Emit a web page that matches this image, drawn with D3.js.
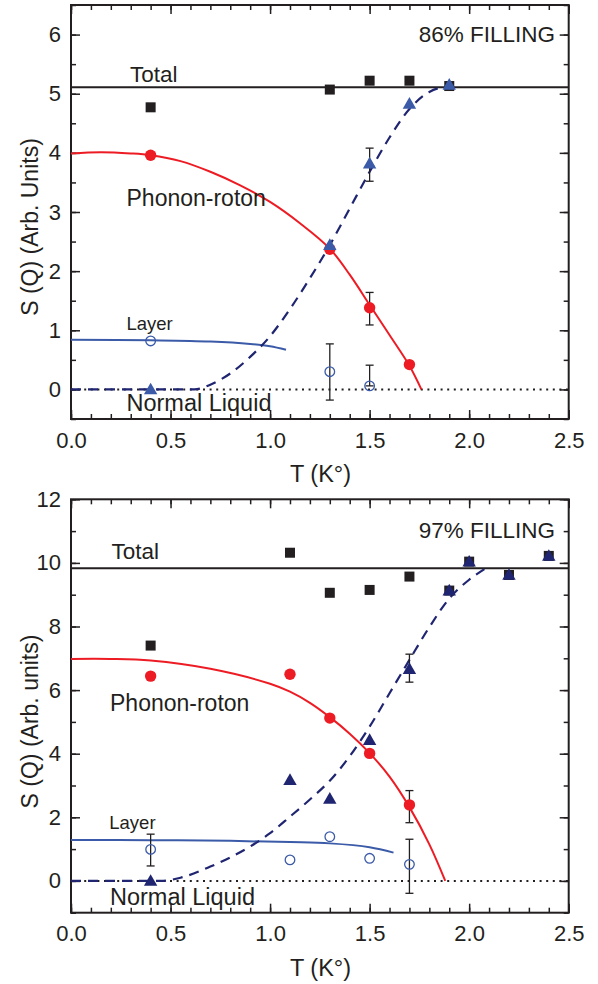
<!DOCTYPE html>
<html><head><meta charset="utf-8">
<script src="https://d3js.org/d3.v7.min.js"></script>
<style>html,body{margin:0;padding:0;background:#fff;} svg{display:block;font-family:"Liberation Sans",Arial,Helvetica,sans-serif;}</style>
</head><body>
<svg id="chart" width="598" height="984"></svg>
<script>
// ---------- shared axis data ----------
const xMajorTicks = [0, 0.5, 1.0, 1.5, 2.0, 2.5];
const xTickLabels = ["0.0", "0.5", "1.0", "1.5", "2.0", "2.5"];
const xTitle = "T (K\u00B0)";

// ---------- panel A: 86% filling ----------
const a_title = "86% FILLING";
const a_yLabel = "S (Q) (Arb. Units)";
const a_yTicks = [0, 1, 2, 3, 4, 5, 6];
const a_totalLevel = 5.11;
const a_totalT = [0.4, 1.3, 1.5, 1.7, 1.9];
const a_totalS = [4.77, 5.07, 5.22, 5.22, 5.13];
const a_phononT = [0.4, 1.3, 1.5, 1.7];
const a_phononS = [3.96, 2.37, 1.38, 0.42];
const a_superT = [0.4, 1.3, 1.5, 1.7, 1.9];
const a_superS = [0.0, 2.44, 3.82, 4.83, 5.15];
const a_layerT = [0.4, 1.3, 1.5];
const a_layerS = [0.82, 0.30, 0.06];
const a_errT = [1.5, 1.5, 1.3, 1.5];
const a_errLo = [1.09, 3.52, -0.18, 0.06];
const a_errHi = [1.64, 4.08, 0.77, 0.41];
const a_phononFit = [[0,3.99],[0.15,4.01],[0.3,3.99],[0.4,3.96],[0.55,3.86],[0.7,3.68],[0.85,3.45],[1.0,3.17],[1.15,2.81],[1.3,2.38],[1.4,1.94],[1.5,1.43],[1.6,0.92],[1.7,0.4],[1.76,0]];
const a_superFit = [[0,0],[0.3,0],[0.62,0],[0.7,0.08],[0.8,0.27],[0.9,0.55],[1.0,0.9],[1.1,1.36],[1.2,1.88],[1.3,2.44],[1.4,3.06],[1.5,3.68],[1.6,4.26],[1.7,4.74],[1.8,5.03],[1.92,5.14]];
const a_layerFit = [[0,0.84],[0.4,0.83],[0.7,0.81],[0.9,0.77],[1.0,0.73],[1.08,0.67]];

// ---------- panel B: 97% filling ----------
const b_title = "97% FILLING";
const b_yLabel = "S (Q) (Arb. units)";
const b_yTicks = [0, 2, 4, 6, 8, 10, 12];
const b_totalLevel = 9.83;
const b_totalT = [0.4, 1.1, 1.3, 1.5, 1.7, 1.9, 2.0, 2.2, 2.4];
const b_totalS = [7.40, 10.32, 9.06, 9.15, 9.57, 9.13, 10.04, 9.62, 10.22];
const b_phononT = [0.4, 1.1, 1.3, 1.5, 1.7];
const b_phononS = [6.44, 6.50, 5.12, 4.01, 2.39];
const b_superT = [0.4, 1.1, 1.3, 1.5, 1.7, 1.9, 2.0, 2.2, 2.4];
const b_superS = [0.0, 3.17, 2.58, 4.43, 6.66, 9.13, 10.04, 9.62, 10.22];
const b_layerT = [0.4, 1.1, 1.3, 1.5, 1.7];
const b_layerS = [0.99, 0.66, 1.39, 0.71, 0.52];
const b_errT = [1.7, 1.7, 0.4, 1.7];
const b_errLo = [1.83, 6.25, 0.47, -0.39];
const b_errHi = [2.84, 7.13, 1.47, 1.31];
const b_phononFit = [[0,6.98],[0.2,6.98],[0.4,6.93],[0.7,6.67],[1.0,6.2],[1.1,5.95],[1.2,5.6],[1.3,5.15],[1.4,4.63],[1.5,4.02],[1.6,3.28],[1.7,2.32],[1.8,1.15],[1.88,0]];
const b_superFit = [[0,0],[0.45,0],[0.55,0.1],[0.7,0.45],[0.8,0.74],[0.9,1.08],[1.0,1.5],[1.1,2.02],[1.2,2.56],[1.3,3.15],[1.4,3.92],[1.5,4.85],[1.6,5.9],[1.7,6.95],[1.8,7.98],[1.9,8.88],[2.0,9.47],[2.08,9.82]];
const b_layerFit = [[0,1.29],[0.4,1.28],[0.8,1.26],[1.1,1.22],[1.3,1.18],[1.5,1.06],[1.62,0.89]];

const RED = "#ed1c24", BLUE = "#3b5ba8", NAVY = "#1f2570", INK = "#231f20";

const svg = d3.select("#chart");

function panel(cfg) {
  const x = d3.scaleLinear().domain([0, 2.5]).range([71, 568.7]);
  const y = d3.scaleLinear().domain(cfg.yDomain).range([cfg.bottom, cfg.top]);
  const g = svg.append("g");
  const minorX = d3.range(0, 2.501, 0.1);
  const minorY = d3.range(cfg.yDomain[0], cfg.yDomain[1] + 1e-6, cfg.minorStep);

  const ax = (gen, tr) => g.append("g").attr("transform", tr).call(gen).call(s => s.select(".domain").remove());
  ax(d3.axisBottom(x).tickValues(minorX).tickSize(-5).tickFormat(""), `translate(0,${cfg.bottom})`);
  ax(d3.axisTop(x).tickValues(minorX).tickSize(-5).tickFormat(""), `translate(0,${cfg.top})`);
  ax(d3.axisLeft(y).tickValues(minorY).tickSize(-5).tickFormat(""), `translate(71,0)`);
  ax(d3.axisRight(y).tickValues(minorY).tickSize(-5).tickFormat(""), `translate(568.7,0)`);
  ax(d3.axisTop(x).tickValues(xMajorTicks).tickSize(-9).tickFormat(""), `translate(0,${cfg.top})`);
  ax(d3.axisRight(y).tickValues(cfg.yTicks).tickSize(-9).tickFormat(""), `translate(568.7,0)`);
  ax(d3.axisBottom(x).tickValues(xMajorTicks).tickSize(-9).tickPadding(13).tickFormat((d, i) => xTickLabels[i]), `translate(0,${cfg.bottom})`);
  ax(d3.axisLeft(y).tickValues(cfg.yTicks).tickSize(-9).tickPadding(10).tickFormat(d => String(d)), `translate(71,0)`);
  g.selectAll(".tick line").attr("stroke", INK).attr("stroke-width", 1.5);
  g.selectAll(".tick text").attr("font-size", 22).attr("fill", INK).attr("font-family", "Liberation Sans, Arial, sans-serif");

  g.append("rect").attr("x", 71).attr("y", cfg.top).attr("width", 568.7 - 71).attr("height", cfg.bottom - cfg.top)
    .attr("fill", "none").attr("stroke", INK).attr("stroke-width", 2);

  const line = d3.line().x(d => x(d[0])).y(d => y(d[1])).curve(d3.curveCatmullRom.alpha(0.5));
  const mline = d3.line().x(d => x(d[0])).y(d => y(d[1])).curve(d3.curveMonotoneX);

  g.append("line").attr("x1", x(0)).attr("x2", x(2.5)).attr("y1", y(0)).attr("y2", y(0))
    .attr("stroke", INK).attr("stroke-width", 2).attr("stroke-dasharray", "2,4.6");
  g.append("line").attr("x1", x(0)).attr("x2", x(2.5)).attr("y1", y(cfg.totalLevel)).attr("y2", y(cfg.totalLevel))
    .attr("stroke", INK).attr("stroke-width", 2);
  g.append("path").attr("d", line(cfg.layerFit)).attr("fill", "none").attr("stroke", BLUE).attr("stroke-width", 2);
  g.append("path").attr("d", mline(cfg.superFit)).attr("fill", "none").attr("stroke", NAVY).attr("stroke-width", 2.2).attr("stroke-dasharray", "10,7");
  g.append("path").attr("d", line(cfg.phononFit)).attr("fill", "none").attr("stroke", RED).attr("stroke-width", 2);

  cfg.errT.forEach((t, i) => {
    const cx = x(t), y1 = y(cfg.errLo[i]), y2 = y(cfg.errHi[i]);
    g.append("line").attr("x1", cx).attr("x2", cx).attr("y1", y1).attr("y2", y2).attr("stroke", INK).attr("stroke-width", 1.3);
    [y1, y2].forEach(yy => g.append("line").attr("x1", cx - 4).attr("x2", cx + 4).attr("y1", yy).attr("y2", yy).attr("stroke", INK).attr("stroke-width", 1.3));
  });

  g.selectAll(null).data(cfg.totalT).enter().append("rect")
    .attr("x", (d) => x(d) - 5).attr("y", (d, i) => y(cfg.totalS[i]) - 5).attr("width", 10).attr("height", 10).attr("fill", INK);
  g.selectAll(null).data(cfg.phononT).enter().append("circle")
    .attr("cx", d => x(d)).attr("cy", (d, i) => y(cfg.phononS[i])).attr("r", 5.7).attr("fill", RED);
  const tri = d3.symbol().type(d3.symbolTriangle).size(78);
  g.selectAll(null).data(cfg.superT).enter().append("path")
    .attr("d", tri).attr("transform", (d, i) => `translate(${x(d)},${y(cfg.superS[i]) + 1})`).attr("fill", cfg.triColor);
  g.selectAll(null).data(cfg.layerT).enter().append("circle")
    .attr("cx", d => x(d)).attr("cy", (d, i) => y(cfg.layerS[i])).attr("r", 4.8)
    .attr("fill", "none").attr("stroke", BLUE).attr("stroke-width", 1.3);

  const txt = (s, px, py, size, anchor) => g.append("text").attr("x", px).attr("y", py).attr("font-size", size)
    .attr("fill", INK).attr("text-anchor", anchor || "start").text(s);
  txt(cfg.title, 555, cfg.top + cfg.titleDy, 22.5, "end");
  txt("Total", cfg.totalX, cfg.totalY, 22.5);
  txt("Phonon-roton", cfg.phX, cfg.phY, 23);
  txt("Layer", cfg.layX, cfg.layY, 18.5);
  txt("Normal Liquid", cfg.nlX, cfg.nlY, 23.5);
  g.append("text").attr("x", 320.5).attr("y", cfg.bottom + 63).attr("font-size", 23.5).attr("fill", INK)
    .attr("text-anchor", "middle").text(xTitle);
  g.append("text").attr("transform", `translate(37.5,${cfg.yLabelCenter}) rotate(-90)`).attr("font-size", 23)
    .attr("fill", INK).attr("text-anchor", "middle").text(cfg.yLabel);
}

panel({
  top: 5, bottom: 419, yDomain: [-0.5, 6.5], yTicks: a_yTicks, minorStep: 0.5,
  totalLevel: a_totalLevel, totalT: a_totalT, totalS: a_totalS,
  phononT: a_phononT, phononS: a_phononS, superT: a_superT, superS: a_superS,
  layerT: a_layerT, layerS: a_layerS, errT: a_errT, errLo: a_errLo, errHi: a_errHi,
  phononFit: a_phononFit, superFit: a_superFit, layerFit: a_layerFit, triColor: BLUE,
  title: a_title, titleDy: 37, totalX: 130, totalY: 81.7, phX: 126.5, phY: 206,
  layX: 126.5, layY: 330, nlX: 126.5, nlY: 410.5, yLabel: a_yLabel, yLabelCenter: 227
});
panel({
  top: 499.3, bottom: 912.7, yDomain: [-1, 12], yTicks: b_yTicks, minorStep: 1,
  totalLevel: b_totalLevel, totalT: b_totalT, totalS: b_totalS,
  phononT: b_phononT, phononS: b_phononS, superT: b_superT, superS: b_superS,
  layerT: b_layerT, layerS: b_layerS, errT: b_errT, errLo: b_errLo, errHi: b_errHi,
  phononFit: b_phononFit, superFit: b_superFit, layerFit: b_layerFit, triColor: NAVY,
  title: b_title, titleDy: 38.4, totalX: 111.5, totalY: 559, phX: 110, phY: 710.7,
  layX: 109.3, layY: 829, nlX: 110, nlY: 905, yLabel: b_yLabel, yLabelCenter: 721.5
});
</script>
</body></html>
